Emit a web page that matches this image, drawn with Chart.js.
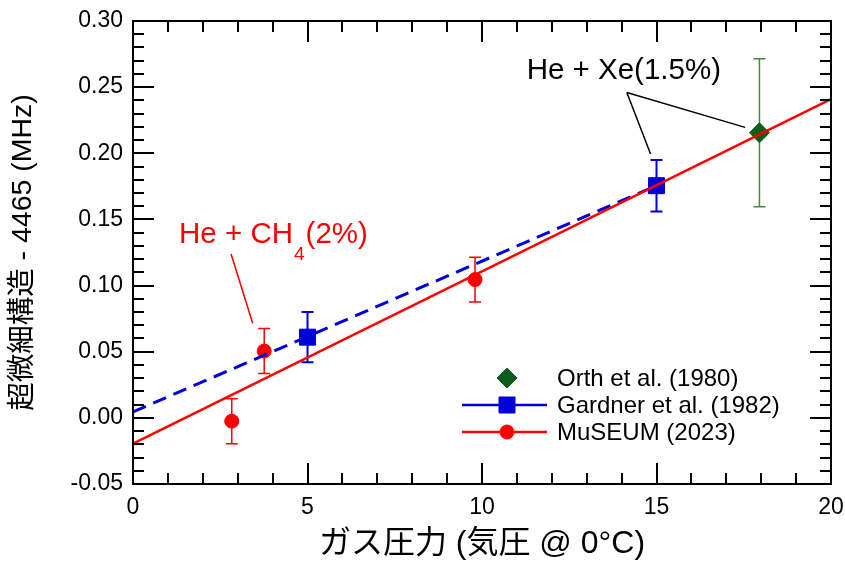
<!DOCTYPE html>
<html><head><meta charset="utf-8">
<script src="https://cdn.jsdelivr.net/npm/chart.js@4.4.0/dist/chart.umd.min.js"></script>
<style>html,body{margin:0;padding:0;background:#fff;}#wrap{width:845px;height:561px;}</style>
</head><body><div id="wrap"><canvas id="c" width="845" height="561"></canvas></div>
<script>
// ---- data ----
const orthX = [17.95];
const orthY = [0.2155];
const orthErr = [0.056];
const gardnerX = [5.0, 15.0];
const gardnerY = [0.061, 0.1755];
const gardnerErr = [0.019, 0.0195];
const museumX = [2.83, 3.76, 9.8];
const museumY = [-0.0025, 0.0505, 0.1045];
const museumErr = [0.017, 0.017, 0.017];
const gardnerFitX = [0, 15];
const gardnerFitY = [0.0045, 0.1755];
const museumFitX = [0, 20];
const museumFitY = [-0.0195, 0.241];
const xTicks = [0, 5, 10, 15, 20];
const yTicks = [-0.05, 0.00, 0.05, 0.10, 0.15, 0.20, 0.25, 0.30];
const seriesNames = ['Orth et al. (1980)', 'Gardner et al. (1982)', 'MuSEUM (2023)'];
const xTitle = 'ガス圧力 (気圧 @ 0°C)';
const yTitle = '超微細構造 - 4465 (MHz)';
const xeLabel = 'He + Xe(1.5%)';
const ch4Label = ['He + CH', '4', '(2%)'];

// ---- annotation anchors (data units) ----
const annot = {
  xe: { x: 11.28, y: 0.256, apex: [14.15, 0.246], ends: [[14.83, 0.1994], [17.54, 0.2196]] },
  ch4: { x: 1.32, y: 0.132, line: [2.81, 0.1238, 3.43, 0.0715] }
};

const FONT = "'Liberation Sans', Arial, 'Noto Sans CJK JP', sans-serif";
const RED = '#ff0000', BLUE = '#0000d8', GREEN = '#0b5e1c', GREEN_ERR = '#3c8c3c';
const zip = (xs, ys) => xs.map((x, i) => ({ x, y: ys[i] }));

const errorBars = {
  id: 'errorBars',
  beforeDatasetDraw(chart, args) {
    const ds = chart.data.datasets[args.index];
    if (!ds.errors) return;
    const ctx = chart.ctx, xs = chart.scales.x, ys = chart.scales.y;
    ctx.save();
    ctx.strokeStyle = ds.errorColor;
    ctx.lineWidth = ds.errorWidth;
    ds.data.forEach((p, i) => {
      const px = xs.getPixelForValue(p.x);
      const t = ys.getPixelForValue(p.y + ds.errors[i]);
      const b = ys.getPixelForValue(p.y - ds.errors[i]);
      ctx.beginPath();
      ctx.moveTo(px, t); ctx.lineTo(px, b);
      ctx.moveTo(px - 6, t); ctx.lineTo(px + 6, t);
      ctx.moveTo(px - 6, b); ctx.lineTo(px + 6, b);
      ctx.stroke();
    });
    ctx.restore();
  }
};

const frame = {
  id: 'frame',
  afterDatasetsDraw(chart) {
    const ctx = chart.ctx, a = chart.chartArea, xs = chart.scales.x, ys = chart.scales.y;
    ctx.save();
    ctx.strokeStyle = '#000';
    ctx.lineWidth = 2;
    ctx.beginPath();
    for (let v = 0; v <= 20; v += 1) {
      const px = Math.round(xs.getPixelForValue(v));
      const len = (v % 5 === 0) ? 21 : 11;
      ctx.moveTo(px, a.bottom); ctx.lineTo(px, a.bottom - len);
      ctx.moveTo(px, a.top); ctx.lineTo(px, a.top + len);
    }
    for (let k = -5; k <= 30; k += 1) {
      const py = Math.round(ys.getPixelForValue(k / 100));
      const len = (k % 5 === 0) ? 21 : 11;
      ctx.moveTo(a.left, py); ctx.lineTo(a.left + len, py);
      ctx.moveTo(a.right, py); ctx.lineTo(a.right - len, py);
    }
    ctx.stroke();
    ctx.strokeRect(a.left, a.top, a.right - a.left, a.bottom - a.top);
    ctx.restore();
  },
  afterDraw(chart) {
    const ctx = chart.ctx, xs = chart.scales.x, ys = chart.scales.y;
    const X = v => xs.getPixelForValue(v), Y = v => ys.getPixelForValue(v);
    ctx.save();
    // He + Xe annotation
    ctx.fillStyle = '#000';
    ctx.font = '29.5px ' + FONT;
    ctx.textBaseline = 'alphabetic';
    ctx.textAlign = 'left';
    ctx.fillText(xeLabel, X(annot.xe.x), Y(annot.xe.y));
    ctx.strokeStyle = '#000';
    ctx.lineWidth = 1.5;
    ctx.beginPath();
    annot.xe.ends.forEach(e => {
      ctx.moveTo(X(annot.xe.apex[0]), Y(annot.xe.apex[1]));
      ctx.lineTo(X(e[0]), Y(e[1]));
    });
    ctx.stroke();
    // He + CH4 annotation
    ctx.fillStyle = RED;
    let tx = X(annot.ch4.x); const ty = Y(annot.ch4.y);
    ctx.font = '29.5px ' + FONT;
    ctx.fillText(ch4Label[0], tx, ty);
    tx += ctx.measureText(ch4Label[0]).width + 1;
    ctx.font = '19px ' + FONT;
    ctx.fillText(ch4Label[1], tx, ty + 17);
    tx += ctx.measureText(ch4Label[1]).width + 1;
    ctx.font = '29.5px ' + FONT;
    ctx.fillText(ch4Label[2], tx, ty);
    ctx.strokeStyle = RED;
    ctx.beginPath();
    const l = annot.ch4.line;
    ctx.moveTo(X(l[0]), Y(l[1])); ctx.lineTo(X(l[2]), Y(l[3]));
    ctx.stroke();

    // legend
    const rows = [378, 405, 432];
    const pointSets = [2, 3, 4];
    ctx.font = '24px ' + FONT;
    ctx.textBaseline = 'middle';
    pointSets.forEach((di, r) => {
      const ds = chart.data.datasets[di];
      const y = rows[r];
      if (ds.legendLine) {
        ctx.strokeStyle = ds.backgroundColor;
        ctx.lineWidth = 2.5;
        ctx.beginPath(); ctx.moveTo(462, y); ctx.lineTo(547, y); ctx.stroke();
      }
      ctx.fillStyle = ds.backgroundColor;
      ctx.strokeStyle = ds.borderColor;
      ctx.lineWidth = 1;
      Chart.helpers.drawPoint(ctx, {
        pointStyle: ds.pointStyle, radius: ds.pointRadius, borderWidth: 1, rotation: 0
      }, 507, y);
      ctx.fillStyle = '#000';
      ctx.fillText(ds.label, 557, y + 1);
    });
    ctx.restore();
  }
};

new Chart(document.getElementById('c'), {
  type: 'scatter',
  data: {
    datasets: [
      { label: 'MuSEUM fit', data: zip(museumFitX, museumFitY), showLine: true, borderColor: RED, borderWidth: 2.5, pointRadius: 0, fill: false },
      { label: 'Gardner fit', data: zip(gardnerFitX, gardnerFitY), showLine: true, borderColor: BLUE, borderWidth: 3, borderDash: [14, 8], pointRadius: 0, fill: false },
      { label: seriesNames[0], data: zip(orthX, orthY), errors: orthErr, errorColor: GREEN_ERR, errorWidth: 1.5, pointStyle: 'rectRot', pointRadius: 10, backgroundColor: GREEN, borderColor: GREEN, borderWidth: 1, legendLine: false },
      { label: seriesNames[1], data: zip(gardnerX, gardnerY), errors: gardnerErr, errorColor: BLUE, errorWidth: 2, pointStyle: 'rect', pointRadius: 11.3, backgroundColor: BLUE, borderColor: BLUE, borderWidth: 1, legendLine: true },
      { label: seriesNames[2], data: zip(museumX, museumY), errors: museumErr, errorColor: RED, errorWidth: 1.5, pointStyle: 'circle', pointRadius: 7, backgroundColor: RED, borderColor: RED, borderWidth: 1, legendLine: true }
    ]
  },
  options: {
    responsive: false,
    animation: false,
    devicePixelRatio: 1,
    layout: { padding: { top: 21, right: 14, left: 0, bottom: 0 } },
    plugins: { legend: { display: false }, tooltip: { enabled: false } },
    scales: {
      x: {
        type: 'linear', min: 0, max: 20,
        afterBuildTicks: s => { s.ticks = xTicks.map(v => ({ value: v })); },
        afterFit: s => { s.height = 77; s.paddingLeft = 0; s.paddingRight = 0; },
        grid: { display: false, drawTicks: false },
        border: { display: false },
        ticks: { color: '#000', font: { family: FONT, size: 23 }, padding: 10, callback: v => String(v) },
        title: { display: true, text: xTitle, color: '#000', font: { family: FONT, size: 32, lineHeight: 1.04 }, padding: 0 }
      },
      y: {
        type: 'linear', min: -0.05, max: 0.30,
        afterBuildTicks: s => { s.ticks = yTicks.map(v => ({ value: v })); },
        afterFit: s => { s.width = 133; s.paddingTop = 0; s.paddingBottom = 0; },
        grid: { display: false, drawTicks: false },
        border: { display: false },
        ticks: { color: '#000', font: { family: FONT, size: 23 }, padding: 10, callback: v => Number(v).toFixed(2) },
        title: { display: true, text: yTitle, color: '#000', font: { family: FONT, size: 28.5 }, padding: { top: 6, bottom: 0 } }
      }
    }
  },
  plugins: [errorBars, frame]
});
</script></body></html>
